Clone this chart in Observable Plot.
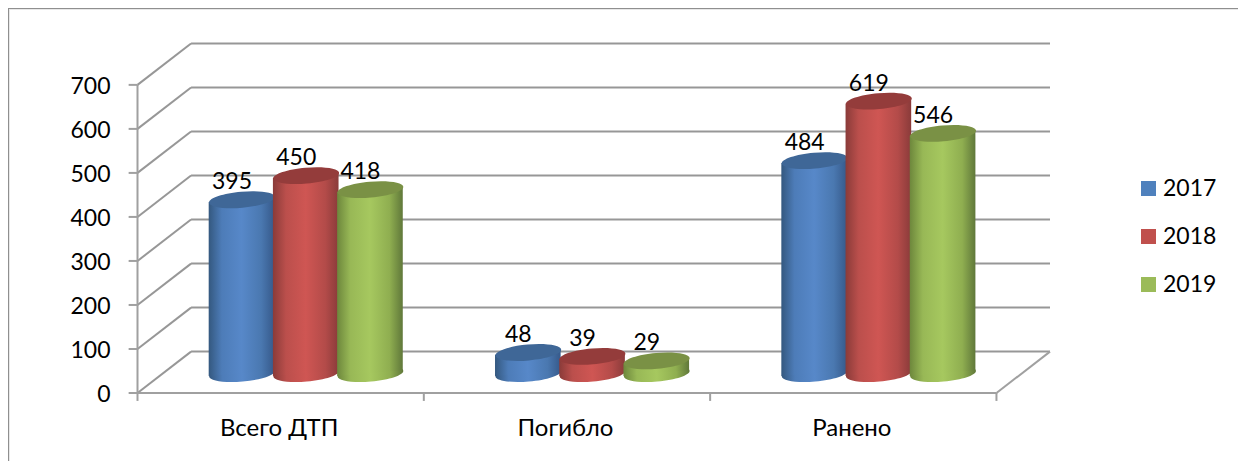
<!DOCTYPE html>
<html>
<head>
<meta charset="utf-8">
<script src="https://cdn.jsdelivr.net/npm/d3@7"></script>
<script src="https://cdn.jsdelivr.net/npm/@observablehq/plot@0.6"></script>
<style>
html,body{margin:0;padding:0;background:#fff;overflow:hidden}
#page{position:relative;width:1238px;height:461px}
#frame{position:absolute;left:8px;top:8px;right:-5px;bottom:-5px;border-left:1.5px solid #8f8f8f;border-top:1.5px solid #8f8f8f;box-shadow:inset 1px 1px 0 #e8e8e8}
#chart{position:absolute;left:0;top:0}
#legend{position:absolute;left:1141px;top:163px;font:23px Lato,"Open Sans",sans-serif;color:#000}
.item{display:flex;align-items:center;height:48px}
.sw{width:15px;height:15px;margin-right:7px;position:relative;top:1px}
svg text{fill:#000}
</style>
</head>
<body>
<div id="page"><div id="frame"></div><div id="chart"></div><div id="legend"></div></div>
<script>
const categories = ["Всего ДТП", "Погибло", "Ранено"];
const years = ["2017", "2018", "2019"];
const values2017 = [395, 48, 484];
const values2018 = [450, 39, 619];
const values2019 = [418, 29, 546];
const yTicks = [0, 100, 200, 300, 400, 500, 600, 700];

const seriesValues = [values2017, values2018, values2019];
const legendColors = ["#4f81bd", "#c0504d", "#9bbb59"];
const topColors = ["#3f6797", "#943c3b", "#7a9145"];
const gradientStops = [
  ["#34587f", "#4d7cb8", "#5788c9", "#4a78b0", "#36598a"],
  ["#8a3b39", "#bb4f4c", "#cf5653", "#b34b49", "#8a3b3a"],
  ["#6d873c", "#98b856", "#a6c85f", "#8fae50", "#60783a"]
];

// Oblique projection of the 3D box, in data units
const depthX = 0.187, depthY = 94;      // back wall offset
const floorY = 44;                      // cylinder base centre above the front axis
const barOffset = 0.365, barStep = 0.2243, barHalf = 0.1146; // in category units
const tiltY = 6.4;                      // rise of the cylinder ends across half a width
const tickX = -0.031, tickY = -18;      // outward tick length, in data units

const rows = categories.flatMap((c, i) => years.map((yr, s) => ({
  cat: c, year: yr, s, value: seriesValues[s][i],
  cx: i + barOffset + s * barStep
})));

const ellipse = {
  draw(ctx, size) {
    const a = Math.sqrt(size / Math.PI), b = a * 0.24, t = -5 * Math.PI / 180, k = 0.5523;
    const cos = Math.cos(t), sin = Math.sin(t);
    const P = (x, y) => [x * cos - y * sin, x * sin + y * cos];
    ctx.moveTo(...P(a, 0));
    ctx.bezierCurveTo(...P(a, k * b), ...P(k * a, b), ...P(0, b));
    ctx.bezierCurveTo(...P(-k * a, b), ...P(-a, k * b), ...P(-a, 0));
    ctx.bezierCurveTo(...P(-a, -k * b), ...P(-k * a, -b), ...P(0, -b));
    ctx.bezierCurveTo(...P(k * a, -b), ...P(a, -k * b), ...P(a, 0));
    ctx.closePath();
  }
};

const defs = () => {
  const svg = d3.create("svg:defs");
  gradientStops.forEach((stops, s) => {
    const g = svg.append("linearGradient").attr("id", "cyl" + s).attr("x1", 0).attr("x2", 1).attr("y1", 0).attr("y2", 0);
    [0, 0.2, 0.5, 0.8, 1].forEach((o, j) => g.append("stop").attr("offset", o).attr("stop-color", stops[j]));
  });
  return svg.node();
};

const gridStyle = {stroke: "#979797", strokeWidth: 2};
const axisStyle = {stroke: "#a0a0a0", strokeWidth: 2};
const n = categories.length;

const cylinderMarks = years.flatMap((yr, s) => {
  const data = rows.filter(d => d.s === s);
  const edges = data.flatMap(d => [
    {key: d.cat, x: d.cx - barHalf, lo: floorY - tiltY, hi: floorY + d.value - tiltY},
    {key: d.cat, x: d.cx + barHalf, lo: floorY + tiltY, hi: floorY + d.value + tiltY}
  ]);
  return [
    Plot.dot(data, {x: "cx", y: () => floorY, r: 33, symbol: ellipse, fill: `url(#cyl${s})`, stroke: "none"}),
    Plot.area(edges, {x1: "x", y1: "lo", y2: "hi", z: "key", fill: `url(#cyl${s})`}),
    Plot.dot(data, {x: "cx", y: d => floorY + d.value, r: 33, symbol: ellipse, fill: topColors[s], stroke: "none"})
  ];
});

const plot = Plot.plot({
  width: 1238, height: 461,
  marginLeft: 137, marginRight: 188.5, marginTop: 43, marginBottom: 68.5,
  style: {background: "transparent", fontFamily: 'Lato, "Open Sans", sans-serif'},
  x: {type: "linear", domain: [0, n + depthX], axis: null},
  y: {type: "linear", domain: [0, 700 + depthY], axis: null},
  marks: [
    defs,
    // back wall
    Plot.link(yTicks, {x1: () => depthX, x2: () => n + depthX, y1: d => d + depthY, y2: d => d + depthY, ...gridStyle}),
    // left wall
    Plot.link(yTicks, {x1: () => 0, x2: () => depthX, y1: d => d, y2: d => d + depthY, ...gridStyle}),
    // floor
    Plot.link([0], {x1: () => 0, x2: () => n, y1: d => d, y2: d => d, ...axisStyle}),
    Plot.link([n], {x1: d => d, x2: d => d + depthX, y1: () => 0, y2: () => depthY, ...axisStyle}),
    // value axis line and ticks
    Plot.link([0], {x1: d => d, x2: d => d, y1: () => 0, y2: () => 700, ...axisStyle}),
    Plot.link(yTicks, {x1: () => tickX, x2: () => 0, y1: d => d, y2: d => d, ...axisStyle}),
    // category ticks
    Plot.link(d3.range(n + 1), {x1: d => d, x2: d => d, y1: () => 0, y2: () => tickY, ...axisStyle}),
    ...cylinderMarks,
    // y tick labels
    Plot.text(yTicks, {x: () => 0, y: d => d, text: d => String(d), textAnchor: "end", dx: -27, dy: 2, fontSize: 23}),
    // category labels
    Plot.text(categories, {x: (d, i) => i + 0.5, y: () => 0, text: d => d, dx: -1.5, dy: 35, fontSize: 24}),
    // value labels
    Plot.text(rows, {x: "cx", y: d => floorY + d.value, text: d => String(d.value), dx: -10, dy: -18, fontSize: 23})
  ]
});
document.getElementById("chart").append(plot);

const legend = d3.select("#legend");
years.forEach((yr, s) => {
  const it = legend.append("div").attr("class", "item");
  it.append("div").attr("class", "sw").style("background", legendColors[s]);
  it.append("span").text(yr);
});
</script>
</body>
</html>
